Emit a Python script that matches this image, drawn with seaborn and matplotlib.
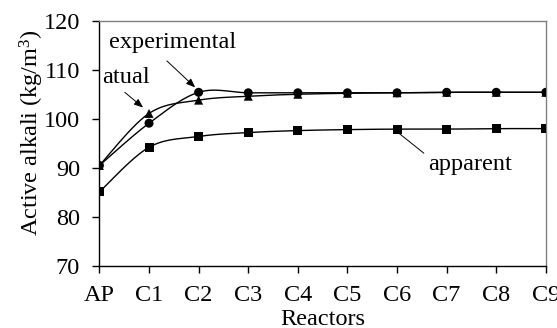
import numpy as np
import pandas as pd
import matplotlib
matplotlib.use("Agg")
import matplotlib.pyplot as plt
import seaborn as sns

reactors = ["AP", "C1", "C2", "C3", "C4", "C5", "C6", "C7", "C8", "C9"]
experimental = [90.5, 99.1, 105.4, 105.3, 105.3, 105.3, 105.3, 105.4, 105.4, 105.4]
atual = [90.5, 101.1, 103.8, 104.6, 105.0, 105.2, 105.3, 105.4, 105.4, 105.4]
apparent = [85.1, 94.2, 96.4, 97.2, 97.6, 97.8, 97.9, 97.9, 98.0, 98.0]

sns.set_theme(style="white")
plt.rcParams["font.family"] = "serif"
plt.rcParams["font.serif"] = ["Liberation Serif", "DejaVu Serif"]
plt.rcParams["mathtext.fontset"] = "custom"
plt.rcParams["mathtext.rm"] = "Liberation Serif"
plt.rcParams["mathtext.it"] = "Liberation Serif:italic"

FS = 17.5


def smooth(y, n=30):
    """Excel-like smoothed line (Catmull-Rom Bezier) through the data points."""
    x = np.arange(len(y), dtype=float)
    y = np.asarray(y, dtype=float)
    xs, ys = [], []
    for i in range(len(y) - 1):
        p0 = (x[i - 1], y[i - 1]) if i > 0 else (x[i], y[i])
        p1 = (x[i], y[i])
        p2 = (x[i + 1], y[i + 1])
        p3 = (x[i + 2], y[i + 2]) if i + 2 < len(y) else (x[i + 1], y[i + 1])
        c1 = (p1[0] + (p2[0] - p0[0]) / 6, p1[1] + (p2[1] - p0[1]) / 6)
        c2 = (p2[0] - (p3[0] - p1[0]) / 6, p2[1] - (p3[1] - p1[1]) / 6)
        t = np.linspace(0, 1, n, endpoint=(i == len(y) - 2))
        bx = (1 - t) ** 3 * p1[0] + 3 * (1 - t) ** 2 * t * c1[0] + 3 * (1 - t) * t ** 2 * c2[0] + t ** 3 * p2[0]
        by = (1 - t) ** 3 * p1[1] + 3 * (1 - t) ** 2 * t * c1[1] + 3 * (1 - t) * t ** 2 * c2[1] + t ** 3 * p2[1]
        xs.append(bx)
        ys.append(by)
    return np.concatenate(xs), np.concatenate(ys)


series = {"experimental": (experimental, "o"), "atual": (atual, "^"), "apparent": (apparent, "s")}

curve_rows = []
point_rows = []
for name, (vals, mk) in series.items():
    sx, sy = smooth(vals)
    curve_rows += [dict(series=name, x=a, y=b) for a, b in zip(sx, sy)]
    point_rows += [dict(series=name, x=i, y=v) for i, v in enumerate(vals)]
curves = pd.DataFrame(curve_rows)
points = pd.DataFrame(point_rows)

fig = plt.figure(figsize=(5.57, 3.28), dpi=100)
ax = fig.add_axes([0.1785, 0.189, 0.8015, 0.748])

sns.lineplot(data=curves, x="x", y="y", units="series", estimator=None, sort=False,
             color="black", linewidth=1.0, ax=ax, legend=False)
sns.scatterplot(data=points, x="x", y="y", style="series",
                markers={k: v[1] for k, v in series.items()},
                color="black", s=42, edgecolor="black", linewidth=0, ax=ax,
                legend=False, zorder=3)

ax.set_xlim(0, len(reactors) - 1)
ax.set_ylim(70, 120)
ax.set_xticks(range(len(reactors)))
ax.set_xticklabels(reactors)
ax.set_yticks(np.arange(70, 121, 10))
ax.tick_params(axis="both", labelsize=FS, direction="out", length=5, width=1,
               color="black", labelcolor="black")
ax.tick_params(axis="x", pad=9)
ax.tick_params(axis="y", pad=9)
ax.xaxis.set_ticks_position("bottom")
ax.yaxis.set_ticks_position("left")
for s in ("left", "bottom"):
    ax.spines[s].set_color("black")
    ax.spines[s].set_linewidth(1.0)
for s in ("top", "right"):
    ax.spines[s].set_color("#808080")
    ax.spines[s].set_linewidth(1.0)
ax.grid(False)

ax.set_xlabel("Reactors", fontsize=FS, color="black")
ax.xaxis.set_label_coords(0.5, -0.175)
ax.set_ylabel("Active alkali (kg/m$^3$)", fontsize=FS, color="black")
ax.yaxis.set_label_coords(-0.12, 0.545)

arrow = dict(arrowstyle="-|>,head_length=0.45,head_width=0.18", color="black", lw=0.7,
             shrinkA=0, shrinkB=0)
ax.text(1.47, 115.5, "experimental", fontsize=FS, ha="center", va="center",
        color="black")
ax.annotate("", xy=(2 - 0.07, experimental[2] + 1.0), xytext=(1.36, 111.8),
            arrowprops=arrow)
ax.text(0.54, 108.4, "atual", fontsize=FS, ha="center", va="center", color="black")
ax.annotate("", xy=(1 - 0.12, atual[1] + 1.2), xytext=(0.51, 105.4),
            arrowprops=arrow)
ax.text(7.48, 90.6, "apparent", fontsize=FS, ha="center", va="center", color="black")
ax.annotate("", xy=(6.02, apparent[6] - 0.7), xytext=(6.54, 93.0),
            arrowprops=dict(arrowstyle="-", color="black", lw=0.7, shrinkA=0, shrinkB=0))

fig.savefig("out.png", dpi=100)
